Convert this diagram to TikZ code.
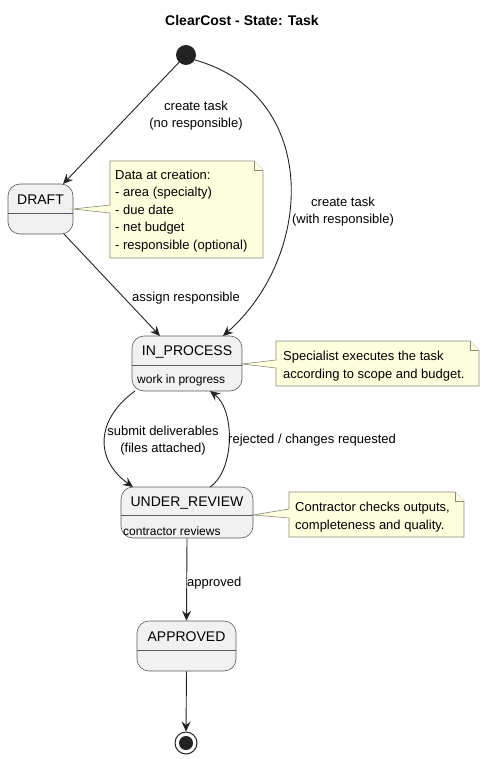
\documentclass[tikz,border=0pt]{standalone}
\usepackage{fontspec}
\setmainfont{Liberation Sans}
\usetikzlibrary{arrows.meta,calc}
\definecolor{statefill}{HTML}{F1F1F1}
\definecolor{stateline}{HTML}{5A5A5A}
\definecolor{notefill}{HTML}{FEFFDD}
\definecolor{noteline}{HTML}{8A8A7A}
\definecolor{dark}{HTML}{222222}
\tikzset{
  statebox/.style={draw=stateline, line width=0.6pt, fill=statefill, rounded corners=12pt, inner sep=0pt},
  divider/.style={draw=stateline, line width=0.6pt},
  sname/.style={font=\fontsize{14}{16}\selectfont, inner sep=0pt},
  sbody/.style={font=\fontsize{12}{14}\selectfont, inner sep=0pt, anchor=west},
  notebox/.style={draw=noteline, line width=0.6pt, fill=notefill},
  notetext/.style={font=\fontsize{13}{17.5}\selectfont, align=left, inner sep=0pt, anchor=west},
  lbl/.style={font=\fontsize{13}{17}\selectfont, align=center, inner sep=0pt},
  trans/.style={draw=dark, line width=0.9pt, -{Stealth[length=10pt,width=9pt,inset=3.5pt]}},
}
\begin{document}
\begin{tikzpicture}[x=1pt,y=-1pt]
\useasboundingbox (0,0) rectangle (484,759);
% title
\node[font=\bfseries\fontsize{14}{16}\selectfont, inner sep=0pt] (title) at (242,20) {ClearCost - State: Task};
% initial
\node[circle, fill=dark, minimum size=20pt, inner sep=0pt] (init) at (186,55) {};
% states
\node[statebox, minimum width=65pt, minimum height=50pt] (draft) at (40.5,209) {};
\draw[divider] (8,213) -- (73,213);
\node[sname] (draftname) at (40.5,200) {DRAFT};

\node[statebox, minimum width=110pt, minimum height=55pt] (inproc) at (187,363.5) {};
\draw[divider] (132,365) -- (242,365);
\node[sname] (inprocname) at (187,352) {IN\_PROCESS};
\node[sbody] (inprocbody) at (137,380) {work in progress};

\node[statebox, minimum width=132pt, minimum height=51pt] (review) at (187,512.5) {};
\draw[divider] (121,515) -- (253,515);
\node[sname] (reviewname) at (187,503) {UNDER\_REVIEW};
\node[sbody] (reviewbody) at (123,531) {contractor reviews};

\node[statebox, minimum width=99pt, minimum height=50pt] (appr) at (186.5,646) {};
\draw[divider] (137,650) -- (236,650);
\node[sname] (apprname) at (186.5,637) {APPROVED};
% final
\node[circle, draw=dark, line width=1pt, fill=white, minimum size=22pt, inner sep=0pt] (final) at (186,743) {};
\node[circle, fill=dark, minimum size=14pt, inner sep=0pt] (finalin) at (186,743) {};

% notes
\draw[notebox] (110,161) -- (254,161) -- (263,170) -- (263,258) -- (110,258) -- (110,213) -- (73,209) -- (110,205) -- cycle;
\draw[notebox] (254,161) -- (254,170) -- (263,170);
\node[notetext] (note1) at (115,211) {Data at creation:\\- area (specialty)\\- due date\\- net budget\\- responsible (optional)};

\draw[notebox] (276,341) -- (470,341) -- (479,350) -- (479,386) -- (276,386) -- (276,368) -- (242,364) -- (276,360) -- cycle;
\draw[notebox] (470,341) -- (470,350) -- (479,350);
\node[notetext] (note2) at (283,366) {Specialist executes the task\\according to scope and budget.};

\draw[notebox] (289,492) -- (455,492) -- (464,501) -- (464,537) -- (289,537) -- (289,518) -- (253,515) -- (289,509) -- cycle;
\draw[notebox] (455,492) -- (455,501) -- (464,501);
\node[notetext] (note3) at (295,517) {Contractor checks outputs,\\completeness and quality.};

% transitions
\coordinate (d1) at (63,184);
\draw[trans] (init) -- (d1);
\node[lbl] (l1) at (196,115.5) {create task\\(no responsible)};

\coordinate (s2) at (195,60);
\coordinate (e2) at (223,336);
\draw[trans] (s2) .. controls (320,95) and (315,255) .. (e2);
\node[lbl] (l2) at (343,211.5) {create task\\(with responsible)};

\coordinate (s3) at (64,234);
\coordinate (e3) at (160,336);
\draw[trans] (s3) -- (e3);
\node[lbl] (l3) at (186,298) {assign responsible};

\coordinate (s4) at (135,391);
\coordinate (e4) at (133,487);
\draw[trans] (s4) .. controls (95,420) and (95,460) .. (e4);
\node[lbl] (l4) at (163,441) {submit deliverables\\(files attached)};

\coordinate (s5) at (210,487);
\coordinate (e5) at (210,391);
\draw[trans] (s5) .. controls (235,470) and (235,410) .. (e5);
\node[lbl, anchor=west] (l5) at (228,440) {rejected / changes requested};

\draw[trans] (review.south) -- (appr.north);
\node[lbl, anchor=west] (l6) at (187,583) {approved};

\draw[trans] (appr.south) -- (final.north);
\end{tikzpicture}
\end{document}
